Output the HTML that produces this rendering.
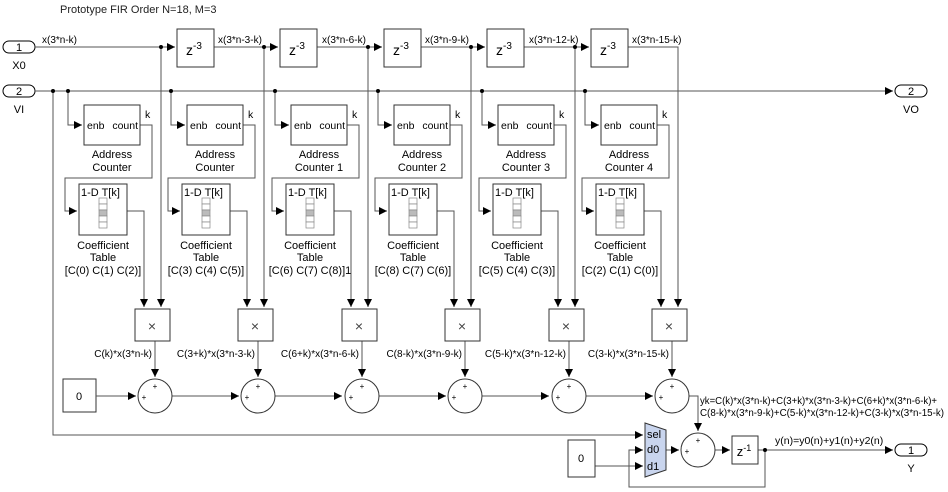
<!DOCTYPE html>
<html><head><meta charset="utf-8"><style>
html,body{margin:0;padding:0;background:#fff}
svg{display:block;font-family:"Liberation Sans",sans-serif}
</style></head><body>
<svg width="948" height="492" viewBox="0 0 948 492" xmlns="http://www.w3.org/2000/svg">
<defs>
<marker id="a" markerUnits="userSpaceOnUse" markerWidth="9" markerHeight="9" refX="8" refY="4" orient="auto"><path d="M0,0 L8,4 L0,8 z" fill="#000"/></marker>
<g id="tbl">
<rect x="99" y="198" width="8" height="6" fill="#fff" stroke="#888" stroke-width="0.7"/>
<rect x="99" y="204" width="8" height="6" fill="#fff" stroke="#888" stroke-width="0.7"/>
<rect x="99" y="210" width="8" height="6" fill="#bbb" stroke="#888" stroke-width="0.7"/>
<rect x="99" y="216" width="8" height="6" fill="#fff" stroke="#888" stroke-width="0.7"/>
<rect x="99" y="222" width="8" height="6" fill="#fff" stroke="#888" stroke-width="0.7"/>
</g>
</defs>
<text x="60" y="13" font-size="11" fill="#222">Prototype FIR Order N=18, M=3</text>

<rect x="3" y="41" width="32" height="12" rx="6" fill="#fff" stroke="#000"/>
<text x="19" y="51" font-size="11" text-anchor="middle">1</text>
<text x="19" y="69" font-size="11" text-anchor="middle">X0</text>
<rect x="3" y="85" width="32" height="12" rx="6" fill="#fff" stroke="#000"/>
<text x="19" y="95" font-size="11" text-anchor="middle">2</text>
<text x="19" y="113" font-size="11" text-anchor="middle">VI</text>
<rect x="895" y="85" width="32" height="12" rx="6" fill="#fff" stroke="#000"/>
<text x="911" y="95" font-size="11" text-anchor="middle">2</text>
<text x="911" y="113" font-size="11" text-anchor="middle">VO</text>
<rect x="895" y="444" width="32" height="12" rx="6" fill="#fff" stroke="#000"/>
<text x="911" y="454" font-size="11" text-anchor="middle">1</text>
<text x="911" y="472" font-size="11" text-anchor="middle">Y</text>

<g stroke="#555" fill="none" stroke-width="1">
<line x1="35" y1="47" x2="161" y2="47"/>
<line x1="35" y1="91" x2="893" y2="91" marker-end="url(#a)"/>
<polyline points="53,91 53,435 643,435" marker-end="url(#a)"/>
<polyline points="627,47 678,47 678,307" marker-end="url(#a)"/>
</g>
<circle cx="53" cy="91" r="2" fill="#000"/>
<text x="42" y="43" font-size="10">x(3*n-k)</text>

<g id="c0">
<g stroke="#555" fill="none">
<line x1="161" y1="47" x2="175" y2="47" marker-end="url(#a)"/>
<line x1="213" y1="47" x2="264" y2="47"/>
<line x1="161" y1="47" x2="161" y2="307" marker-end="url(#a)"/>
<polyline points="68,91 68,125 82,125" marker-end="url(#a)"/>
<polyline points="140,125 152,125 152,178 65,178 65,211 77,211" marker-end="url(#a)"/>
<polyline points="127,211 144,211 144,307" marker-end="url(#a)"/>
<line x1="155" y1="341" x2="155" y2="377" marker-end="url(#a)"/>
<line x1="172" y1="396" x2="239" y2="396" marker-end="url(#a)"/>
</g>
<circle cx="161" cy="47" r="2" fill="#000"/>
<circle cx="68" cy="91" r="2" fill="#000"/>
<rect x="177" y="29" width="37" height="38" fill="#fff" stroke="#333"/>
<text x="194" y="55" font-size="14" text-anchor="middle">z<tspan font-size="10" dy="-6">-3</tspan></text>
<rect x="84" y="105" width="56" height="40" fill="#fff" stroke="#333"/>
<text x="87" y="129" font-size="10.5">enb</text><text x="138" y="129" font-size="10.5" text-anchor="end">count</text>
<text x="145" y="118" font-size="10.5">k</text>
<text x="112" y="158" font-size="11" text-anchor="middle">Address</text>
<rect x="79" y="184" width="48" height="51" fill="#fff" stroke="#333"/>
<text x="81" y="196" font-size="11">1-D T[k]</text>
<use href="#tbl"/>
<text x="103" y="249" font-size="11" text-anchor="middle">Coefficient</text>
<text x="103" y="261" font-size="11" text-anchor="middle">Table</text>
<rect x="135" y="309" width="35" height="32" fill="#fff" stroke="#333"/>
<text x="152" y="331" font-size="14" text-anchor="middle" fill="#444">×</text>
<circle cx="155" cy="396" r="17" fill="#fff" stroke="#333"/>
<text x="155" y="389" font-size="8" text-anchor="middle">+</text>
<text x="144" y="400" font-size="8" text-anchor="middle">+</text>
</g>
<use href="#c0" transform="translate(103,0)"/>
<use href="#c0" transform="translate(207,0)"/>
<use href="#c0" transform="translate(310,0)"/>
<use href="#c0" transform="translate(414,0)"/>
<g transform="translate(517,0)">
<g stroke="#555" fill="none">
<polyline points="68,91 68,125 82,125" marker-end="url(#a)"/>
<polyline points="140,125 152,125 152,178 65,178 65,211 77,211" marker-end="url(#a)"/>
<polyline points="127,211 144,211 144,307" marker-end="url(#a)"/>
<line x1="155" y1="341" x2="155" y2="377" marker-end="url(#a)"/>
<polyline points="172,396 181,396 181,431" marker-end="url(#a)"/>
</g>
<circle cx="68" cy="91" r="2" fill="#000"/>
<rect x="84" y="105" width="56" height="40" fill="#fff" stroke="#333"/>
<text x="87" y="129" font-size="10.5">enb</text><text x="138" y="129" font-size="10.5" text-anchor="end">count</text>
<text x="145" y="118" font-size="10.5">k</text>
<text x="112" y="158" font-size="11" text-anchor="middle">Address</text>
<rect x="79" y="184" width="48" height="51" fill="#fff" stroke="#333"/>
<text x="81" y="196" font-size="11">1-D T[k]</text>
<use href="#tbl"/>
<text x="103" y="249" font-size="11" text-anchor="middle">Coefficient</text>
<text x="103" y="261" font-size="11" text-anchor="middle">Table</text>
<rect x="135" y="309" width="35" height="32" fill="#fff" stroke="#333"/>
<text x="152" y="331" font-size="14" text-anchor="middle" fill="#444">×</text>
<circle cx="155" cy="396" r="17" fill="#fff" stroke="#333"/>
<text x="155" y="389" font-size="8" text-anchor="middle">+</text>
<text x="144" y="400" font-size="8" text-anchor="middle">+</text>
</g>

<g font-size="11" text-anchor="middle">
<text x="112" y="171">Counter</text><text x="215" y="171">Counter</text><text x="319" y="171">Counter 1</text>
<text x="422" y="171">Counter 2</text><text x="526" y="171">Counter 3</text><text x="629" y="171">Counter 4</text>
<text x="103" y="274">[C(0) C(1) C(2)]</text><text x="206" y="274">[C(3) C(4) C(5)]</text><text x="310" y="274">[C(6) C(7) C(8)]1</text>
<text x="413" y="274">[C(8) C(7) C(6)]</text><text x="517" y="274">[C(5) C(4) C(3)]</text><text x="620" y="274">[C(2) C(1) C(0)]</text>
</g>
<g font-size="10">
<text x="218" y="43">x(3*n-3-k)</text><text x="322" y="43">x(3*n-6-k)</text><text x="425" y="43">x(3*n-9-k)</text>
<text x="529" y="43">x(3*n-12-k)</text><text x="632" y="43">x(3*n-15-k)</text>
</g>
<g font-size="10" text-anchor="end">
<text x="152" y="357">C(k)*x(3*n-k)</text><text x="255" y="357">C(3+k)*x(3*n-3-k)</text><text x="359" y="357">C(6+k)*x(3*n-6-k)</text>
<text x="462" y="357">C(8-k)*x(3*n-9-k)</text><text x="566" y="357">C(5-k)*x(3*n-12-k)</text><text x="669" y="357">C(3-k)*x(3*n-15-k)</text>
</g>

<rect x="63" y="379" width="33" height="33" fill="#fff" stroke="#333"/>
<text x="79" y="400" font-size="11" text-anchor="middle">0</text>
<line x1="96" y1="396" x2="136" y2="396" stroke="#555" marker-end="url(#a)"/>

<text x="700" y="404" font-size="10" textLength="237" lengthAdjust="spacingAndGlyphs">yk=C(k)*x(3*n-k)+C(3+k)*x(3*n-3-k)+C(6+k)*x(3*n-6-k)+</text>
<text x="700" y="416" font-size="10" textLength="244" lengthAdjust="spacingAndGlyphs">C(8-k)*x(3*n-9-k)+C(5-k)*x(3*n-12-k)+C(3-k)*x(3*n-15-k)</text>

<g stroke="#555" fill="none">
<line x1="595" y1="466" x2="643" y2="466" marker-end="url(#a)"/>
<line x1="666" y1="450" x2="679" y2="450" marker-end="url(#a)"/>
<line x1="715" y1="450" x2="730" y2="450" marker-end="url(#a)"/>
<line x1="758" y1="450" x2="893" y2="450" marker-end="url(#a)"/>
<polyline points="765,450 765,487 629,487 629,450 643,450" marker-end="url(#a)"/>
</g>
<circle cx="765" cy="450" r="2" fill="#000"/>
<rect x="568" y="440" width="27" height="37" fill="#fff" stroke="#333"/>
<text x="581" y="462" font-size="11" text-anchor="middle">0</text>
<polygon points="645,423 666,430 666,470 645,477" fill="#c9d5ee" stroke="#333"/>
<text x="647" y="438" font-size="11">sel</text>
<text x="647" y="453" font-size="11">d0</text>
<text x="647" y="470" font-size="11">d1</text>
<circle cx="698" cy="450" r="17" fill="#fff" stroke="#333"/>
<text x="698" y="443" font-size="8" text-anchor="middle">+</text>
<text x="687" y="454" font-size="8" text-anchor="middle">+</text>
<rect x="732" y="436" width="26" height="28" fill="#fff" stroke="#333"/>
<text x="744" y="456" font-size="13" text-anchor="middle">z<tspan font-size="9" dy="-5">-1</tspan></text>
<text x="775" y="444" font-size="10.5">y(n)=y0(n)+y1(n)+y2(n)</text>
</svg>
</body></html>
